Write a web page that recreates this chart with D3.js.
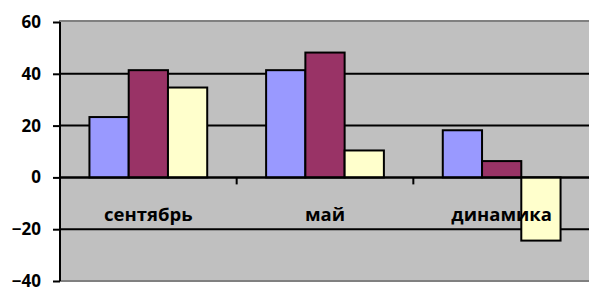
<!DOCTYPE html>
<html>
<head>
<meta charset="utf-8">
<script src="https://cdn.jsdelivr.net/npm/d3@7"></script>
<style>
  body { margin: 0; background: #fff; }
  text { font-family: "Open Sans", sans-serif; font-weight: bold; }
</style>
</head>
<body>
<svg id="chart" width="589" height="288"></svg>
<script>
// categories and the three series
var categories = ["сентябрь", "май", "динамика"]
var seriesNames = ["ряд1", "ряд2", "ряд3"]
var series1 = [23.3, 41.4, 18.2]
var series2 = [41.4, 48.2, 6.3]
var series3 = [34.7, 10.4, -24.4]
var yTicks = [-40, -20, 0, 20, 40, 60]
var colors = ["#9999ff", "#993366", "#ffffcc"]

var svg = d3.select("#chart")

var plotLeft = 60, plotTop = 22, plotRight = 590, plotBottom = 281

var y = d3.scaleLinear().domain([-40, 60]).range([plotBottom, plotTop])
var x = d3.scaleBand().domain(categories).range([plotLeft, plotRight]).padding(0)
var bw = x.bandwidth()
// gap width 150% like the spreadsheet default
var x1 = d3.scaleBand().domain(seriesNames).range([bw / 6, bw * 5 / 6]).padding(0)

var allSeries = [series1, series2, series3]

// plot area
svg.append("rect")
    .attr("x", plotLeft)
    .attr("y", plotTop - 1)
    .attr("width", plotRight - plotLeft + 2)
    .attr("height", plotBottom - plotTop + 1)
    .attr("fill", "#c0c0c0")
    .attr("stroke", "#808080")
    .attr("stroke-width", 2)

// gridlines
svg.append("g")
    .selectAll("line")
    .data(yTicks.filter(function(d) { return d > -40 && d < 60 }))
    .enter()
    .append("line")
    .attr("x1", plotLeft)
    .attr("x2", plotRight)
    .attr("y1", function(d) { return y(d) })
    .attr("y2", function(d) { return y(d) })
    .attr("stroke", "#000")
    .attr("stroke-width", 2)

// bars
categories.forEach(function(c, i) {
    var g = svg.append("g").attr("transform", "translate(" + x(c) + ",0)")
    g.selectAll("rect")
        .data(seriesNames)
        .enter()
        .append("rect")
        .attr("x", function(s) { return x1(s) })
        .attr("width", x1.bandwidth())
        .attr("y", function(s, j) { return y(Math.max(0, allSeries[j][i])) })
        .attr("height", function(s, j) { return Math.abs(y(allSeries[j][i]) - y(0)) })
        .attr("fill", function(s, j) { return colors[j] })
        .attr("stroke", "#000")
        .attr("stroke-width", 2)
})

// category labels, drawn over the bars
svg.append("g")
    .selectAll("text")
    .data(categories)
    .enter()
    .append("text")
    .attr("x", function(d) { return x(d) + bw / 2 })
    .attr("y", 221)
    .attr("text-anchor", "middle")
    .style("font-size", "18.5px")
    .text(function(d) { return d })

// x axis at zero, ticks between categories
var xAxis = svg.append("g")
xAxis.append("line")
    .attr("x1", plotLeft)
    .attr("x2", plotRight)
    .attr("y1", y(0))
    .attr("y2", y(0))
    .attr("stroke", "#000")
    .attr("stroke-width", 2)
xAxis.selectAll(".xtick")
    .data(categories.slice(1))
    .enter()
    .append("line")
    .attr("class", "xtick")
    .attr("x1", function(d) { return x(d) })
    .attr("x2", function(d) { return x(d) })
    .attr("y1", y(0))
    .attr("y2", y(0) + 7)
    .attr("stroke", "#000")
    .attr("stroke-width", 2)

// y axis
var yAxis = svg.append("g")
    .attr("transform", "translate(" + plotLeft + ",0)")
    .call(d3.axisLeft(y).tickValues(yTicks).tickSize(7).tickPadding(12))
yAxis.select(".domain")
    .attr("stroke", "#000")
    .attr("stroke-width", 2)
    .attr("d", "M0," + plotTop + "V" + plotBottom)
yAxis.selectAll(".tick line")
    .attr("stroke", "#000")
    .attr("stroke-width", 2)
yAxis.selectAll(".tick text")
    .attr("fill", "#000")
    .style("font-size", "17px")
    .style("font-family", "'Open Sans', sans-serif")
    .style("font-weight", "bold")
</script>
</body>
</html>
